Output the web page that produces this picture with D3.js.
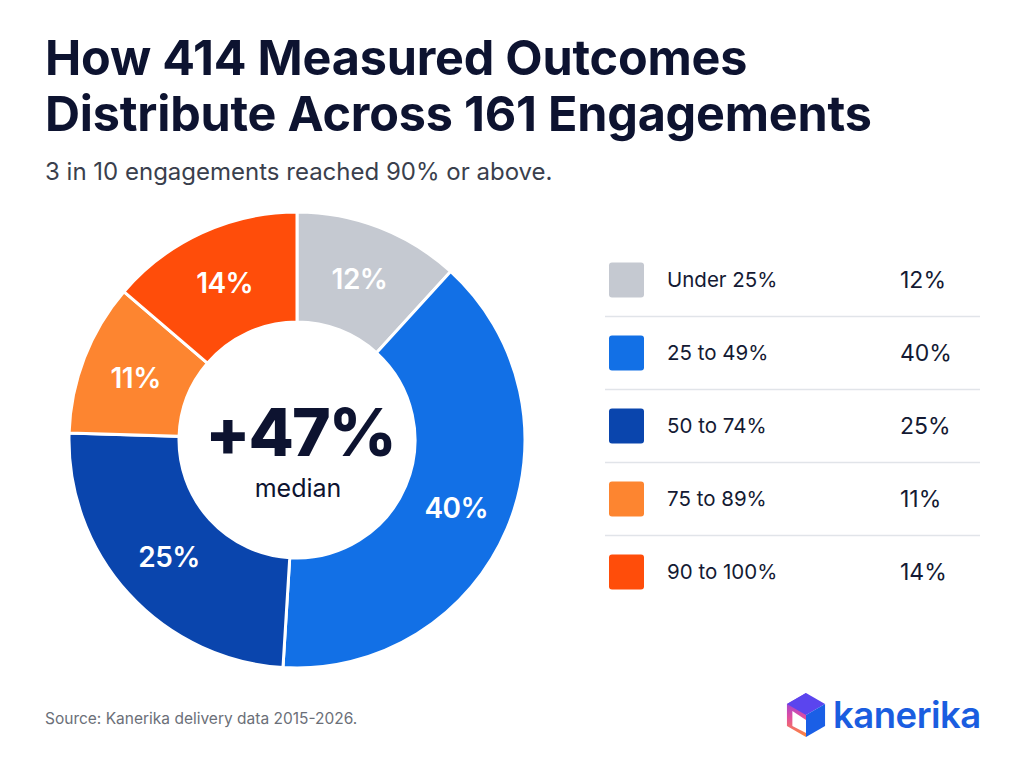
<!DOCTYPE html>
<html>
<head>
<meta charset="utf-8">
<script src="https://cdn.jsdelivr.net/npm/d3@7"></script>
<style>
  html, body { margin: 0; padding: 0; background: #ffffff; }
  svg { display: block; font-family: Inter, "Noto Sans", sans-serif; }
</style>
</head>
<body>
<div id="chart"></div>
<script>
// data
const categories = ["Under 25%", "25 to 49%", "50 to 74%", "75 to 89%", "90 to 100%"];
const shares = [12, 40, 25, 11, 14];
const colors = ["#c5c9d1", "#1270e6", "#0a45ad", "#fd8530", "#ff4d0a"];
const medianLabel = "+47%";

const width = 1024, height = 768;
const svg = d3.select("#chart").append("svg")
  .attr("width", width)
  .attr("height", height);

svg.append("rect").attr("width", width).attr("height", height).attr("fill", "#ffffff");

// title block
const titleLines = ["How 414 Measured Outcomes", "Distribute Across 161 Engagements"];
svg.selectAll(".title").data(titleLines).enter()
  .append("text")
  .attr("class", "title")
  .attr("x", 45)
  .attr("y", (d, i) => 75 + i * 56)
  .attr("font-size", 48.5)
  .attr("font-weight", 700)
  .attr("letter-spacing", -0.2)
  .attr("fill", "#0d1330")
  .text(d => d);

svg.append("text")
  .attr("x", 45).attr("y", 180)
  .attr("font-size", 24)
  .attr("fill", "#3a3f4d")
  .text("3 in 10 engagements reached 90% or above.");

// donut
const cx = 297, cy = 440;
const outerR = 228, innerR = 118;

const pie = d3.pie().sort(null).value(d => d);
const arc = d3.arc().innerRadius(innerR).outerRadius(outerR);

const g = svg.append("g").attr("transform", `translate(${cx},${cy})`);
const slices = g.selectAll(".slice").data(pie(shares)).enter()
  .append("g").attr("class", "slice");

slices.append("path")
  .attr("d", arc)
  .attr("fill", (d, i) => colors[i])
  .attr("stroke", "#ffffff")
  .attr("stroke-width", 3);

slices.append("text")
  .attr("transform", d => `translate(${arc.centroid(d)})`)
  .attr("text-anchor", "middle")
  .attr("dy", "0.36em")
  .attr("font-size", 28)
  .attr("font-weight", 600)
  .attr("letter-spacing", -0.5)
  .attr("fill", "#ffffff")
  .text(d => d.data + "%");

g.append("text")
  .attr("x", 3).attr("y", 16)
  .attr("text-anchor", "middle")
  .attr("font-size", 66)
  .attr("font-weight", 800)
  .attr("letter-spacing", -2)
  .attr("fill", "#0d1330")
  .text(medianLabel);

g.append("text")
  .attr("x", 1).attr("y", 57)
  .attr("text-anchor", "middle")
  .attr("font-size", 25)
  .attr("fill", "#0d1330")
  .text("median");

// legend
const legend = svg.append("g").attr("transform", "translate(609,280)");
const rowH = 73;
const rows = legend.selectAll(".row").data(categories).enter()
  .append("g").attr("class", "row")
  .attr("transform", (d, i) => `translate(0,${i * rowH})`);

rows.append("rect")
  .attr("x", 0).attr("y", -17.5)
  .attr("width", 35).attr("height", 35)
  .attr("rx", 3)
  .attr("fill", (d, i) => colors[i]);

rows.append("text")
  .attr("x", 58).attr("dy", "0.35em")
  .attr("font-size", 20.5)
  .attr("fill", "#141a33")
  .text(d => d);

rows.append("text")
  .attr("x", 291).attr("dy", "0.35em")
  .attr("font-size", 23)
  .attr("fill", "#141a33")
  .text((d, i) => shares[i] + "%");

rows.filter((d, i) => i < categories.length - 1)
  .append("line")
  .attr("x1", -4).attr("x2", 371)
  .attr("y1", rowH / 2).attr("y2", rowH / 2)
  .attr("stroke", "#e1e4e9")
  .attr("stroke-width", 1.5);

// source
svg.append("text")
  .attr("x", 45).attr("y", 724)
  .attr("font-size", 15.5)
  .attr("fill", "#6b6f78")
  .text("Source: Kanerika delivery data 2015-2026.");

// logo
const defs = svg.append("defs");
const grad = defs.append("linearGradient").attr("id", "logoGrad")
  .attr("x1", 0).attr("y1", 0).attr("x2", 0).attr("y2", 1);
grad.append("stop").attr("offset", "0%").attr("stop-color", "#7a3cf0");
grad.append("stop").attr("offset", "55%").attr("stop-color", "#e04ea0");
grad.append("stop").attr("offset", "100%").attr("stop-color", "#ff8a3a");

const logo = svg.append("g").attr("transform", "translate(806,715)");
const hr = 22;
const hex = d3.range(6).map(k => {
  const a = Math.PI / 3 * k - Math.PI / 2;
  return [hr * Math.cos(a), hr * Math.sin(a)];
});
// left outline (gradient)
logo.append("path")
  .attr("d", d3.line()([hex[0], hex[5], hex[4], hex[3], [0, 0]]) + "Z")
  .attr("fill", "url(#logoGrad)");
logo.append("path")
  .attr("d", d3.line()([[0, 5], [-hr * 0.62, -4], [-hr * 0.62, 11], [0, 18]]) + "Z")
  .attr("fill", "#ffffff");
// top face
logo.append("path")
  .attr("d", d3.line()([hex[0], hex[1], [0, 0], hex[5]]) + "Z")
  .attr("fill", "#5b45ee");
// right face
logo.append("path")
  .attr("d", d3.line()([[0, 0], hex[1], hex[2], hex[3]]) + "Z")
  .attr("fill", "#1a5fe6");

svg.append("text")
  .attr("x", 833).attr("y", 728)
  .attr("font-size", 36.5)
  .attr("font-weight", 600)
  .attr("letter-spacing", -0.5)
  .attr("fill", "#1a5de0")
  .text("kanerika");
</script>
</body>
</html>
